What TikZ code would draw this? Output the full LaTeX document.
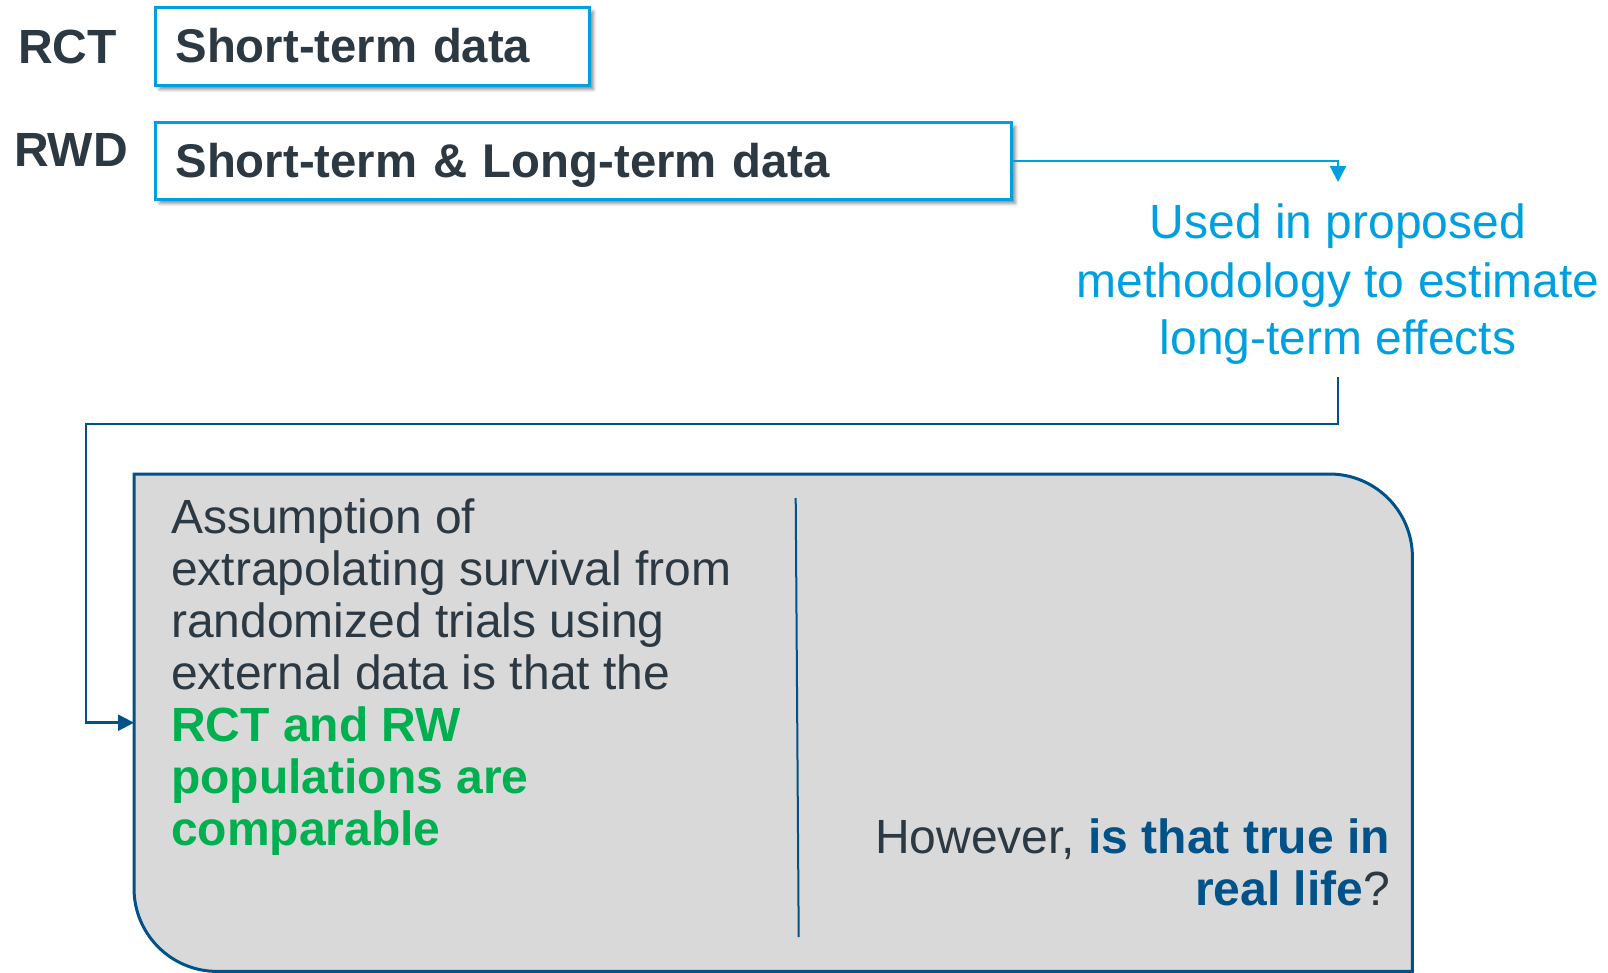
\documentclass[tikz,border=0pt]{standalone}
\usepackage{fontspec}
\setmainfont{Liberation Sans}
\usetikzlibrary{arrows.meta,shadows,shadows.blur}
\definecolor{lblue}{RGB}{0,160,223}
\definecolor{dblue}{RGB}{0,82,136}
\definecolor{tgreen}{RGB}{0,176,80}
\definecolor{tdark}{RGB}{44,57,67}
\definecolor{panelgray}{RGB}{217,217,217}
\tikzset{
  rowlabel/.style={font=\bfseries\fontsize{48}{52}\selectfont, text=tdark, inner sep=0, anchor=base west},
  databox/.style={draw=lblue, line width=3pt, fill=white, anchor=north west,
    font=\bfseries\fontsize{47.3}{52}\selectfont, text=tdark, align=left,
    inner xsep=20pt, inner ysep=0pt, text height=33pt, text depth=0pt,
    blur shadow={shadow xshift=4pt, shadow yshift=-4pt, shadow blur radius=3pt, shadow opacity=45}},
  bluelink/.style={draw=lblue, line width=2.5pt},
  darklink/.style={draw=dblue, line width=2.5pt},
  tip/.style={-{Triangle[length=16pt,width=16pt]}},
  usedtext/.style={font=\fontsize{48}{58}\selectfont, text=lblue, align=center, inner sep=0},
  bodytext/.style={font=\fontsize{48}{52}\selectfont, text=tdark, inner sep=0},
}
\begin{document}
\begin{tikzpicture}[x=1pt,y=-1pt]
\useasboundingbox (0,0) rectangle (1608,973);
% row labels
\node[rowlabel] (rctlbl) at (18,64) {RCT};
\node[rowlabel] (rwdlbl) at (14,167) {RWD};
% data boxes
\node[databox, minimum width=434pt, minimum height=78pt, text width=394pt] (rct) at (154,6) {Short-term data};
\node[databox, minimum width=856pt, minimum height=77pt, text width=816pt] (rwd) at (154,121) {Short-term \& Long-term data};
% blue text (base anchor = last line)
\node[usedtext, anchor=base] (used) at (1338,355) {Used in proposed\\methodology to estimate\\long-term effects};
% panel
\node[minimum width=1278pt, minimum height=497pt, inner sep=0, anchor=north west] (panel) at (134,474) {};
\path[fill=panelgray, draw=dblue, line width=3pt]
  (panel.north west) -- ([xshift=-83pt]panel.north east)
  arc[start angle=90, end angle=0, radius=83pt]
  -- (panel.south east) -- ([xshift=83pt]panel.south west)
  arc[start angle=270, end angle=180, radius=83pt] -- cycle;
\draw[dblue, line width=2pt] (795.7,498) -- (798.7,937);
% panel texts
\node[bodytext, anchor=base west, align=left] (assump) at (171,845)
  {Assumption of\\extrapolating survival from\\randomized trials using\\external data is that the\\
   \textcolor{tgreen}{\bfseries RCT and RW}\\\textcolor{tgreen}{\bfseries populations are}\\\textcolor{tgreen}{\bfseries comparable}};
\node[bodytext, anchor=base east, align=right] (question) at (1390,905)
  {However, \textcolor{dblue}{\bfseries is that true in}\\\textcolor{dblue}{\bfseries real life}?};
% connectors
\draw[bluelink, tip] (rwd.east) -| ([yshift=22pt]used.north);
\draw[darklink, tip] ([yshift=-12pt]used.south) |- (86,424) |- (panel.west);
\end{tikzpicture}
\end{document}
